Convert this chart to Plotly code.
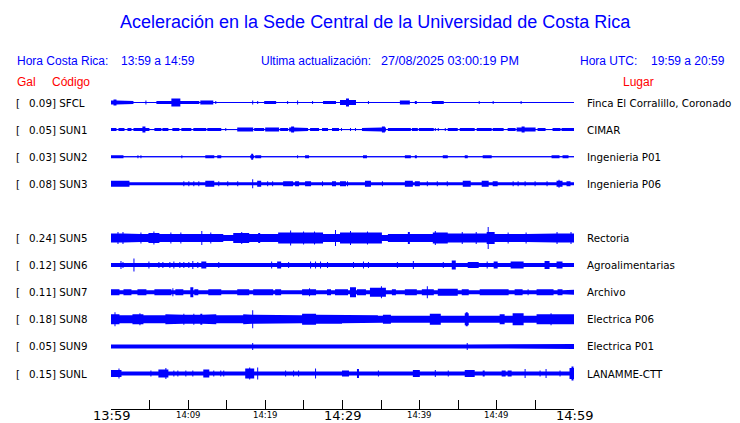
import numpy as np
import plotly.graph_objects as go

# ---------------- data ----------------
codes = ["SFCL", "SUN1", "SUN2", "SUN3", "SUN4", "SUN5", "SUN6", "SUN7", "SUN8", "SUN9", "SUNL"]
peaks_gal = [0.09, 0.05, 0.03, 0.08, None, 0.24, 0.12, 0.11, 0.18, 0.05, 0.15]
places = ["Finca El Corralillo, Coronado", "CIMAR", "Ingenieria P01", "Ingenieria P06", None,
          "Rectoria", "Agroalimentarias", "Archivo", "Electrica P06", "Electrica P01", "LANAMME-CTT"]

# background (continuous) half-amplitude of each trace, display units
base_amp = [0.5, 0.5, 0.5, 1.5, None, 3.0, 2.0, 2.0, 3.5, 2.0, 2.0]

# bursts: (start minute, end minute, half-amplitude)
sfcl_bursts = [(0, 0.9, 2), (0.4, 0.6, 3), (1.0, 2.8, 1.5), (4.5, 4.5, 2), (6.0, 7.8, 1.5), (7.9, 8.9, 4),
               (8.9, 11.4, 1.5), (11.6, 13.2, 2), (13.6, 13.6, 1.5), (18.4, 18.4, 2), (19.0, 19.0, 1.5),
               (19.9, 21.3, 1.5), (22.9, 22.9, 1.5), (24.2, 24.2, 2), (26.1, 26.1, 1.5), (27.6, 29.1, 1.5),
               (29.8, 31.7, 2.5), (30.5, 30.8, 4), (33.4, 33.4, 1.5), (34.3, 34.3, 1), (37.5, 38.6, 2),
               (39.5, 39.5, 1.5), (41.7, 43.0, 1.5), (47.7, 47.7, 1.5), (49.5, 49.5, 1.5), (51.6, 51.6, 1),
               (53.1, 53.1, 1.5), (55.6, 55.6, 1)]
sun1_bursts = [(0, 0.65, 1.5), (1.0, 1.7, 1.5), (2.2, 2.6, 1.5), (3.0, 3.5, 1.5), (3.6, 4.9, 1.5), (4.2, 4.4, 3),
               (5.7, 6.5, 1.5), (6.7, 7.4, 1.5), (8.0, 8.8, 1.5), (9.2, 10.3, 1.5), (10.7, 12.3, 1.5),
               (12.5, 14.2, 1.5), (14.9, 14.9, 1.5), (16.4, 18.4, 2), (18.6, 19.8, 1.5), (20.0, 21.7, 2),
               (20.3, 20.5, 2.5), (22.0, 22.9, 1.5), (23.1, 24.8, 2), (23.4, 23.6, 3), (25.0, 25.5, 1.5),
               (25.9, 26.9, 1.5), (27.4, 28.1, 1.5), (28.7, 29.5, 1.5), (29.9, 29.9, 1.5), (31.0, 31.0, 1.5),
               (31.7, 31.7, 1.5), (32.6, 34.5, 1.5), (34.7, 35.6, 2), (35.2, 35.4, 3), (36.0, 38.8, 1.5),
               (39.1, 39.7, 1.5), (39.9, 41.7, 1.5), (42.0, 42.0, 1.5), (42.4, 42.4, 1.5), (43.3, 43.3, 1.5),
               (43.7, 44.9, 1.5), (45.3, 47.0, 1.5), (47.5, 49.2, 1.5), (49.5, 50.8, 1.5), (51.5, 52.4, 1.5),
               (52.7, 55.0, 2), (53.3, 53.5, 3), (55.3, 56.3, 1.5), (57.3, 58.2, 1.5), (58.5, 60.0, 1.5)]
sun2_bursts = [(0, 1.6, 1.5), (1.9, 1.9, 1), (3.5, 3.5, 1.5), (3.9, 3.9, 1.5), (5.4, 5.4, 1), (6.5, 6.5, 1),
               (8.0, 8.0, 1), (9.2, 9.2, 1.5), (10.0, 10.0, 1), (11.9, 11.9, 1), (12.3, 13.3, 1.5),
               (13.8, 14.2, 1.5), (16.4, 16.4, 1), (18.1, 18.5, 1.5), (18.3, 18.3, 3), (18.8, 19.4, 1.5),
               (20.4, 20.4, 1), (23.3, 23.3, 1), (24.2, 24.2, 1.5), (25.2, 25.6, 1.5), (26.1, 26.1, 1),
               (29.9, 29.9, 1), (31.3, 31.3, 1), (32.7, 33.1, 1.5), (33.9, 33.9, 1), (35.2, 35.2, 1),
               (38.2, 38.8, 1.5), (39.5, 39.5, 1.5), (41.0, 41.0, 1), (42.3, 42.3, 1), (43.1, 43.6, 1.5),
               (45.9, 46.2, 1.5), (46.6, 46.6, 1), (47.2, 47.2, 1), (48.3, 49.2, 1.5), (52.4, 52.8, 1),
               (57.2, 58.0, 1.5), (58.6, 59.2, 1.5), (59.9, 59.9, 1)]
sun3_bursts = [(0, 2.3, 3), (0.3, 0.3, 3.5), (1.2, 1.2, 3.5), (2.6, 8.9, 2), (9.4, 9.4, 2.5), (10.1, 10.1, 2.5),
               (10.7, 10.7, 2.5), (11.4, 11.4, 2.5), (12.3, 13.3, 3), (12.8, 12.9, 3.5), (14.0, 14.0, 2.5),
               (15.1, 15.1, 2.5), (16.4, 16.4, 2.5), (18.4, 18.4, 4.5), (19.0, 19.4, 3), (20.3, 20.3, 2.5),
               (20.9, 20.9, 2.5), (22.4, 23.5, 2.5), (23.9, 24.3, 2.5), (25.2, 25.9, 2.5), (27.4, 27.4, 2.5),
               (28.7, 29.1, 2.5), (29.8, 30.4, 2.5), (30.7, 30.7, 2.5), (33.0, 33.6, 3), (35.2, 35.2, 2.5),
               (38.2, 39.1, 3), (39.5, 39.9, 2.5), (41.0, 41.0, 2.5), (42.3, 42.3, 2.5), (43.6, 43.6, 2.5),
               (45.7, 46.6, 3), (48.1, 48.9, 3), (48.3, 48.3, 3.5), (49.5, 50.1, 2.5), (52.1, 52.1, 2.5),
               (52.8, 52.8, 2.5), (53.7, 53.7, 2.5), (55.0, 55.0, 2.5), (56.5, 56.5, 2.5), (57.8, 58.5, 3),
               (58.1, 58.1, 4), (59.1, 59.5, 2.5)]
sun4_bursts = []
sun5_bursts = [(0, 3.5, 4.5), (0.9, 0.9, 6), (1.5, 1.5, 6), (3.5, 4.9, 4), (3.9, 3.9, 5.5), (4.9, 6.2, 5),
               (5.6, 5.6, 6.5), (6.2, 11.9, 4), (7.8, 7.8, 5.5), (9.1, 9.1, 5.5), (11.8, 11.8, 7),
               (11.9, 14.5, 4), (12.9, 12.9, 5.5), (15.9, 17.9, 5), (16.9, 16.9, 6), (17.9, 21.7, 4),
               (19.2, 19.2, 5), (21.7, 27.4, 5.5), (23.3, 23.3, 7.5), (25.0, 25.0, 6.5), (26.4, 26.4, 6.5),
               (27.4, 29.8, 4), (29.1, 29.1, 8), (29.8, 35.0, 5.5), (31.0, 31.0, 7), (33.2, 33.2, 6.5),
               (36.0, 41.8, 4), (38.6, 38.6, 6), (41.8, 43.6, 5.5), (42.0, 42.0, 7), (43.6, 48.8, 4.5),
               (45.5, 45.5, 6), (47.3, 47.3, 6), (48.8, 49.6, 6), (48.9, 48.9, 11), (49.6, 55.7, 4),
               (51.5, 51.5, 5.5), (53.8, 53.8, 5.5), (55.7, 60.0, 4.5), (57.8, 57.8, 6), (59.6, 59.6, 6)]
sun6_bursts = [(1.3, 1.3, 4), (1.6, 1.6, 3), (3.0, 3.0, 6.5), (4.9, 4.9, 3.5), (6.2, 6.2, 3), (6.7, 6.7, 3),
               (7.6, 7.6, 3), (8.2, 8.2, 3.5), (8.9, 8.9, 3), (9.4, 9.4, 3), (10.1, 10.1, 3), (10.6, 10.6, 4),
               (11.3, 11.3, 3), (11.8, 12.3, 3.5), (14.0, 14.0, 3), (15.8, 15.8, 2.5), (20.8, 20.8, 3.5),
               (21.6, 22.0, 3.5), (23.0, 23.0, 3), (25.9, 25.9, 3.5), (26.5, 26.5, 3.5), (27.2, 27.2, 3.5),
               (28.1, 28.1, 3), (31.4, 31.4, 3), (32.7, 32.7, 3.5), (33.4, 33.4, 3), (34.5, 34.5, 2.5),
               (37.1, 37.1, 3), (39.2, 39.2, 4), (40.4, 40.4, 2.5), (41.1, 41.1, 2.5), (43.1, 43.1, 3),
               (44.2, 44.6, 4.5), (46.3, 47.6, 3), (48.8, 48.8, 3.5), (49.6, 50.1, 3.5), (51.8, 53.4, 3.5),
               (54.1, 54.1, 2.5), (56.3, 56.7, 4), (57.8, 58.5, 3.5)]
sun7_bursts = [(0, 1.0, 3), (1.7, 2.6, 3), (3.5, 4.5, 3), (5.7, 7.8, 3), (8.0, 8.0, 4), (8.4, 9.3, 3),
               (10.3, 10.6, 5), (10.9, 11.2, 3), (12.7, 14.2, 3), (14.6, 15.3, 2.5), (16.4, 17.9, 3),
               (18.5, 21.0, 3), (21.3, 22.0, 3), (22.9, 23.5, 2.5), (24.8, 26.5, 3), (25.7, 25.7, 4),
               (28.1, 28.5, 3), (29.1, 30.7, 3), (31.0, 31.7, 5), (32.0, 33.0, 3), (33.6, 35.6, 4.5),
               (35.0, 35.0, 6), (36.5, 36.9, 3), (38.2, 39.5, 3), (40.4, 41.7, 3), (41.0, 41.0, 6),
               (42.4, 44.9, 3.5), (45.5, 46.3, 3), (47.9, 51.4, 3), (52.4, 53.3, 3), (54.1, 54.1, 3),
               (55.2, 57.3, 3), (58.0, 58.5, 3), (59.3, 60.0, 2.5)]
sun8_bursts = [(0, 1.0, 5), (0.5, 0.5, 7), (1.0, 2.8, 4), (2.8, 4.1, 5), (3.8, 3.8, 6), (4.1, 7.1, 4),
               (7.1, 8.0, 5), (8.0, 12.3, 4.5), (9.4, 9.4, 5.5), (10.7, 10.7, 5.5), (11.7, 11.7, 5.5),
               (12.3, 13.6, 5), (13.6, 17.2, 4), (17.2, 17.7, 5), (17.7, 19.4, 4.5), (18.4, 18.4, 9),
               (19.4, 24.8, 4), (24.8, 26.5, 5.5), (25.6, 25.6, 6), (26.5, 29.8, 4.5), (29.8, 34.5, 4),
               (35.3, 36.2, 4.5), (41.4, 42.7, 5.5), (45.9, 46.3, 6), (46.1, 46.1, 7), (50.4, 51.0, 5),
               (52.1, 53.4, 6), (55.2, 60.0, 5), (57.0, 57.0, 6)]
sun9_bursts = [(3.0, 3.6, 2.5), (5.0, 5.8, 2.5), (7.4, 8.2, 2.5), (10.0, 10.6, 2.5), (13.0, 14.5, 2.5),
               (16.5, 17.0, 2.5), (18.4, 18.4, 3.5), (19.5, 21.0, 2.5), (23.5, 24.0, 2.5), (26.0, 27.0, 2.5),
               (29.5, 30.3, 2.5), (31.0, 31.8, 2.5), (34.0, 34.6, 2.5), (37.5, 38.3, 2.5), (40.0, 41.5, 2.5),
               (44.0, 44.6, 2.5), (46.2, 46.2, 3.5), (47.5, 48.5, 2.5), (50.5, 51.5, 2.5), (53.5, 54.5, 2.5),
               (56.0, 57.5, 2.5), (59.0, 60.0, 2.5)]
sunl_bursts = [(0, 1.3, 3.5), (1.0, 1.0, 5), (5.2, 5.2, 3), (6.2, 7.4, 4), (7.1, 7.1, 5.5), (8.2, 8.2, 3),
               (8.7, 8.7, 3), (9.7, 9.7, 3), (10.6, 10.6, 3), (12.0, 12.7, 4), (12.4, 12.4, 4.5),
               (13.3, 13.3, 3), (14.2, 14.2, 3), (14.6, 14.6, 3), (17.5, 18.5, 5), (18.0, 18.0, 6),
               (19.0, 19.0, 6), (22.6, 22.6, 3), (23.7, 23.7, 3), (24.3, 24.3, 3), (26.5, 26.5, 5),
               (30.0, 30.8, 3), (32.0, 32.0, 4.5), (34.7, 34.7, 3), (39.2, 39.9, 3.5), (42.0, 42.0, 3.5),
               (43.7, 43.7, 3), (45.9, 47.0, 3.5), (46.9, 46.9, 4), (48.3, 48.3, 3), (50.7, 51.1, 3),
               (51.5, 51.8, 3), (53.7, 53.7, 4.5), (55.6, 55.6, 3), (56.4, 56.4, 4.5), (58.2, 58.2, 3),
               (59.5, 60.0, 5.5), (59.8, 59.8, 7)]
bursts = [sfcl_bursts, sun1_bursts, sun2_bursts, sun3_bursts, sun4_bursts, sun5_bursts,
          sun6_bursts, sun7_bursts, sun8_bursts, sun9_bursts, sunl_bursts]

tick_minutes = [0, 10, 20, 30, 40, 50, 60]
tick_labels = ["13:59", "14:09", "14:19", "14:29", "14:39", "14:49", "14:59"]
tick_major = [True, False, False, True, False, False, True]

title_text = "Aceleración en la Sede Central de la Universidad de Costa Rica"
hora_cr = "13:59 a 14:59"
hora_utc = "19:59 a 20:59"
ultima_label = "Ultima actualización:"
ultima_value = "27/08/2025 03:00:19 PM"

# ---------------- layout geometry ----------------
W, H = 740, 423
OFF = 8  # page body margin offset
L0, RIGHT0, T0, BOT0 = 110.5, 574.3, 88, 409  # plot edges in window pixels
L, T = L0 - OFF, T0 - OFF
R = W - (RIGHT0 - OFF)
B = H - (BOT0 - OFF)
PW, PH = W - L - R, H - T - B
ROW_PX = 27.1
ROW0_PX = 102.5
y_top = -(ROW0_PX - T0) / ROW_PX
y_bot = (BOT0 - ROW0_PX) / ROW_PX

def px(x):
    return (x - OFF - L) / PW

def py(y):
    return (H - B - (y - OFF)) / PH

BLUE = "#0000FF"
RED = "#FF0000"

fig = go.Figure()

NS = 465
t = np.linspace(0, 60, NS)
dx = 60 / (NS - 1)
half = dx * 0.55
left_e = np.clip(t - dx / 2, 0, 60)
right_e = np.clip(t + dx / 2, 0, 60)
step_x = np.ravel(np.column_stack([left_e, right_e]))
for i, code in enumerate(codes):
    if base_amp[i] is None:
        continue
    env = np.full_like(t, base_amp[i])
    for s, e, a in bursts[i]:
        m = (t >= s - half) & (t <= e + half)
        env[m] = np.maximum(env[m], a)
    env_rows = np.repeat(env / ROW_PX, 2)
    xs = np.concatenate([step_x, step_x[::-1]])
    ys = np.concatenate([i - env_rows, (i + env_rows)[::-1]])
    fig.add_trace(go.Scatter(x=xs, y=ys, mode="lines", fill="toself", fillcolor=BLUE,
                             line=dict(width=0, color=BLUE), hoverinfo="skip", showlegend=False))
    fig.add_trace(go.Scatter(x=[0, 60], y=[i, i], mode="lines", line=dict(width=1, color=BLUE),
                             hoverinfo="skip", showlegend=False))

ann = []
ann.append(dict(text=title_text, x=px(375), y=py(22), xref="paper", yref="paper", showarrow=False,
                xanchor="center", yanchor="middle", font=dict(family="Liberation Sans", size=18, color=BLUE)))
for txt, x0, fs in [("Hora Costa Rica:", 14, 12), (hora_cr, 119, 12), (ultima_label, 259, 12),
                    (ultima_value, 379, 12.6), ("Hora UTC:", 578, 12), (hora_utc, 649, 12)]:
    ann.append(dict(text=txt, x=px(x0), y=py(61), xref="paper", yref="paper",
                    showarrow=False, xanchor="left", yanchor="middle",
                    font=dict(family="Liberation Sans", size=fs, color=BLUE)))
for txt, x0 in [("Gal", 14, ), ("Código", 49), ("Lugar", 621)]:
    ann.append(dict(text=txt, x=px(x0), y=py(81.5), xref="paper", yref="paper", showarrow=False,
                    xanchor="left", yanchor="middle", font=dict(family="Liberation Sans", size=12, color=RED)))

lab_font = dict(family="DejaVu Sans", size=10.3, color="#000000")
for i, code in enumerate(codes):
    if peaks_gal[i] is None:
        continue
    ann.append(dict(text="[", x=px(13), y=i, xref="paper", yref="y", showarrow=False,
                    xanchor="left", yanchor="middle", font=lab_font))
    ann.append(dict(text=f"{peaks_gal[i]:.2f}] {code}", x=px(26.5), y=i, xref="paper", yref="y",
                    showarrow=False, xanchor="left", yanchor="middle", font=lab_font))
    ann.append(dict(text=places[i], x=px(585.5), y=i, xref="paper", yref="y", showarrow=False,
                    xanchor="left", yanchor="middle", font=lab_font))

for m, lab, major in zip(tick_minutes, tick_labels, tick_major):
    ann.append(dict(text=lab, x=m, y=py(416 if major else 415), xref="x", yref="paper", showarrow=False,
                    xanchor="center", yanchor="middle",
                    font=dict(family="DejaVu Sans", size=13 if major else 8.5, color="#000000")))

fig.update_layout(
    width=W, height=H, margin=dict(l=L, r=R, t=T, b=B, pad=0),
    paper_bgcolor="white", plot_bgcolor="white", showlegend=False,
    annotations=ann,
    xaxis=dict(range=[0, 60], showgrid=False, zeroline=False, showline=True, linecolor="black", linewidth=1,
               ticks="inside", ticklen=9, tickcolor="black", tickwidth=1, dtick=5, tick0=0,
               showticklabels=False, fixedrange=True),
    yaxis=dict(range=[y_bot, y_top], showgrid=False, zeroline=False, showline=False, showticklabels=False,
               ticks="", fixedrange=True),
)
fig.write_html("out.html")
